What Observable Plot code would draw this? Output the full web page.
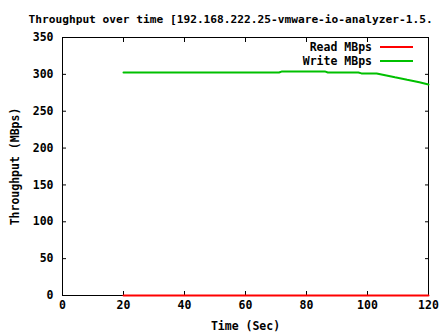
<!DOCTYPE html>
<html><head><meta charset="utf-8">
<script src="https://cdn.jsdelivr.net/npm/d3@7"></script>
<script src="https://cdn.jsdelivr.net/npm/@observablehq/plot@0.6"></script>
<style>
body{margin:0;background:#fff;overflow:hidden}
#chart{position:relative;width:447px;height:335px}
svg{font-family:"DejaVu Sans Mono",monospace;font-weight:bold}
</style>
</head><body><div id="chart"></div>
<script>
const title = "Throughput over time [192.168.222.25-vmware-io-analyzer-1.5.";
const times = [20, 71, 72, 86, 87, 97, 98, 103, 105, 107, 109, 111, 113, 115, 117, 119, 120];
const writeMBps = [302.5, 302.5, 304, 304, 302.6, 302.6, 301.3, 301.3, 299.5, 297.8, 296, 294.5, 292.6, 291, 289.2, 287.3, 286.3];
const readMBps = [0, 0, 0, 0, 0, 0, 0, 0, 0, 0, 0, 0, 0, 0, 0, 0, 0];
const xTicks = [0, 20, 40, 60, 80, 100, 120];
const yTicks = [0, 50, 100, 150, 200, 250, 300, 350];
const seriesNames = ["Read MBps", "Write MBps"];
const seriesColors = ["#ff0000", "#00c000"];

const rows = [];
times.forEach((t, i) => {
  rows.push({t, v: readMBps[i], s: seriesNames[0]});
  rows.push({t, v: writeMBps[i], s: seriesNames[1]});
});

const chart = Plot.plot({
  width: 447, height: 335,
  marginLeft: 62, marginRight: 19, marginTop: 37, marginBottom: 40,
  style: {fontSize: "11.5px", fontFamily: "DejaVu Sans Mono", fontWeight: "bold", color: "black", background: "white", overflow: "visible"},
  x: {domain: [0, 120]},
  y: {domain: [0, 350]},
  color: {domain: seriesNames, range: seriesColors},
  marks: [
    Plot.frame({stroke: "black", strokeWidth: 1}),
    Plot.axisX({ticks: xTicks, tickSize: -4, tickPadding: 9, label: "Time (Sec)", labelAnchor: "center", labelArrow: "none", labelOffset: 34, fill: "black", stroke: "black"}),
    Plot.axisX({anchor: "top", ticks: xTicks, tickSize: -4, tickFormat: () => "", label: null, stroke: "black"}),
    Plot.axisY({ticks: yTicks, tickSize: -4, tickPadding: 13, label: "Throughput (MBps)", labelAnchor: "center", labelArrow: "none", labelOffset: 52, fill: "black", stroke: "black"}),
    Plot.axisY({anchor: "right", ticks: yTicks, tickSize: -4, tickFormat: () => "", label: null, stroke: "black"}),
    Plot.line(rows, {x: "t", y: "v", z: "s", stroke: "s", strokeWidth: 2}),
    Plot.text([title], {frameAnchor: "top-left", textAnchor: "start", lineAnchor: "bottom", dx: -34, dy: -15, fontSize: 11.2, fontWeight: "bold", fill: "black"})
  ]
});
document.getElementById("chart").appendChild(chart);

// legend (inside the plot frame, top-right)
const svg = d3.select(chart);
const lg = svg.append("g");
seriesNames.forEach((name, i) => {
  const y = 47 + i * 14;
  lg.append("text").attr("x", 372).attr("y", y).attr("dy", "0.35em")
    .attr("text-anchor", "end").attr("font-size", 11.5).attr("font-weight", "bold").attr("fill", "black").text(name);
  lg.append("line").attr("x1", 380).attr("x2", 413).attr("y1", y).attr("y2", y)
    .attr("stroke", seriesColors[i]).attr("stroke-width", 2);
});
</script></body></html>
